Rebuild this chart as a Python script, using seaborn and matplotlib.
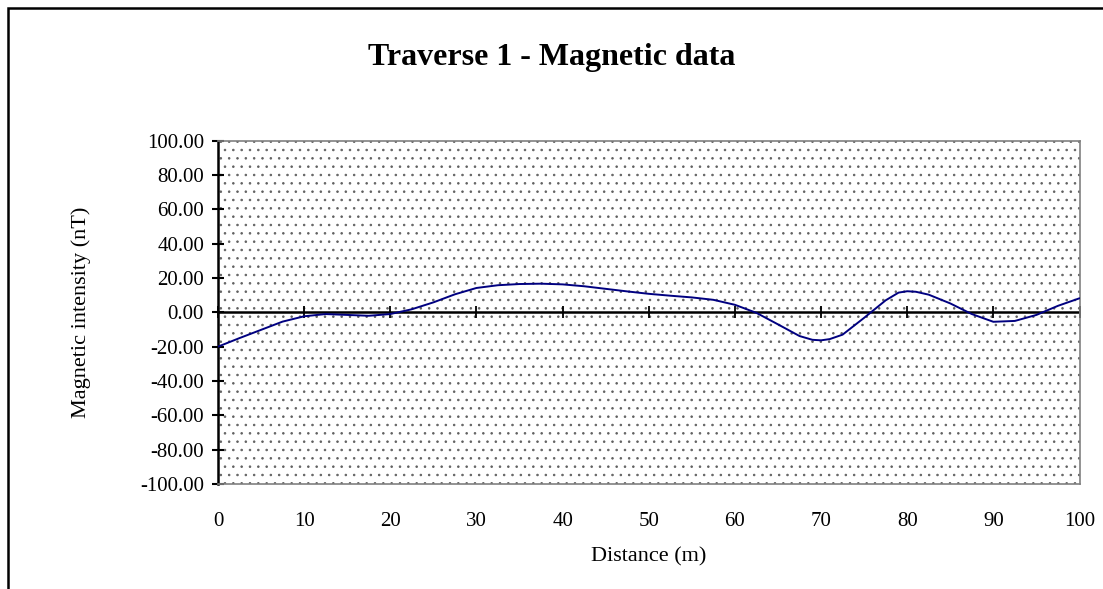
import numpy as np
import pandas as pd
import matplotlib
matplotlib.use("Agg")
import matplotlib.pyplot as plt
from matplotlib.patches import Rectangle
from matplotlib.ticker import FormatStrFormatter
import seaborn as sns

# distance along traverse (m) and magnetic intensity (nT)
distance = [0, 2.5, 5, 7.5, 10, 12.5, 15, 17.5, 20, 22.5, 25, 27.5, 30, 32.5, 35,
            37.5, 40, 42.5, 45, 47.5, 50, 52.5, 55, 57.5, 60, 62.5, 65, 67.5, 69,
            70, 71, 72.5, 75, 77.5, 79, 80, 81, 82.5, 85, 87.5, 90, 92.5, 95, 97.5, 100]
intensity = [-20.0, -15.0, -10.2, -5.4, -2.3, -1.0, -1.5, -2.0, -1.0, 1.8, 5.8,
             10.5, 14.2, 15.8, 16.5, 16.7, 16.3, 15.2, 13.7, 12.2, 10.8, 9.7, 8.7,
             7.3, 4.4, -0.3, -7.0, -13.8, -16.0, -16.3, -15.6, -13.0, -3.2, 7.0, 11.5,
             12.3, 12.0, 10.3, 5.2, -1.0, -5.5, -5.0, -1.5, 3.8, 8.2]
x_ticks = list(range(0, 101, 10))
y_ticks = list(range(-100, 101, 20))

df = pd.DataFrame({"Distance (m)": distance, "Magnetic intensity (nT)": intensity})

sns.set_style("white")
plt.rcParams['font.family'] = ['Liberation Serif', 'DejaVu Serif']
plt.rcParams['text.color'] = 'black'
plt.rcParams['axes.labelcolor'] = 'black'
plt.rcParams['xtick.color'] = 'black'
plt.rcParams['ytick.color'] = 'black'
plt.rcParams['hatch.color'] = '#606060'
plt.rcParams['hatch.linewidth'] = 0.6

fig = plt.figure(figsize=(11.03, 5.89), dpi=100)
ax = fig.add_axes([0.1976, 0.1783, 0.7811, 0.5828])

# dotted pattern fill of the plot area
ax.add_patch(Rectangle((0, 0), 1, 1, transform=ax.transAxes, facecolor='white',
                       edgecolor='#606060', hatch='..', linewidth=0, zorder=0))

sns.lineplot(data=df, x="Distance (m)", y="Magnetic intensity (nT)", ax=ax,
             color='#000080', linewidth=1.4, zorder=3)

ax.set_xlim(0, 100)
ax.set_ylim(-100, 100)
ax.set_xticks(x_ticks)
ax.set_yticks(y_ticks)
ax.yaxis.set_major_formatter(FormatStrFormatter('%.2f'))

for side in ['top', 'right', 'bottom']:
    ax.spines[side].set_color('#808080')
    ax.spines[side].set_linewidth(1.2)
ax.spines['left'].set_color('black')
ax.spines['left'].set_linewidth(1.8)

ax.tick_params(axis='x', length=0, pad=20, labelsize=15)
ax.tick_params(axis='y', direction='inout', length=8, width=1.5, pad=6, labelsize=15, left=True)

# x axis crossing at zero with its tick marks
ax.axhline(0, color='black', linewidth=1.8, zorder=2)
zero_ax = ax.secondary_xaxis(0.5)
zero_ax.set_xticks(x_ticks)
zero_ax.tick_params(direction='inout', length=8, width=1.3, color='black',
                    labelbottom=False, labeltop=False)
for sp in zero_ax.spines.values():
    sp.set_visible(False)

ax.set_xlabel("Distance (m)", fontsize=16, labelpad=12)
ax.set_ylabel("Magnetic intensity (nT)", fontsize=16, labelpad=35)
fig.text(0.5, 1 - 57 / 589, "Traverse 1 - Magnetic data", fontsize=23, fontweight='bold',
         ha='center', va='center')

# chart area frame
fig.patches.append(Rectangle((7.5 / 1103, -0.1), 1.2, 0.9856 + 0.1, transform=fig.transFigure,
                             facecolor='none', edgecolor='black', linewidth=1.8))

fig.savefig("out.png", dpi=100)
